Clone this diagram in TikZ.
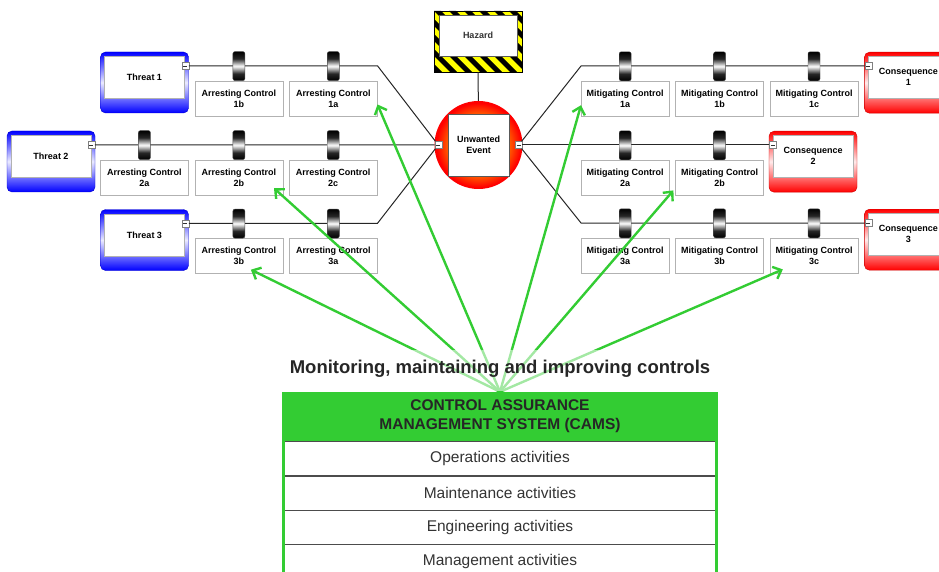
\documentclass[tikz,border=0pt]{standalone}
\usepackage{fontspec}
\setmainfont{Liberation Sans}
\usetikzlibrary{arrows.meta, positioning, calc}
\definecolor{threatblue}{RGB}{0,0,255}
\definecolor{conred}{RGB}{255,0,0}
\definecolor{camsgreen}{RGB}{51,204,51}
\definecolor{hazyellow}{RGB}{255,255,0}
\pgfdeclareradialshading{eventshade}{\pgfpoint{0bp}{0bp}}{color(0bp)=(yellow); color(15bp)=(orange); color(24bp)=(red); color(50bp)=(red)}
\pgfdeclareverticalshading{barriershade}{100bp}{color(0bp)=(black); color(25bp)=(black); color(37bp)=(black!85); color(50bp)=(white); color(63bp)=(black!85); color(75bp)=(black); color(100bp)=(black)}
\tikzset{
  frame/.style={rounded corners=5pt, minimum width=88pt, minimum height=61pt, inner sep=0pt},
  threatframe/.style={frame, top color=threatblue, bottom color=threatblue, middle color=threatblue!8, draw=threatblue!80!black},
  consframe/.style={frame, top color=conred, bottom color=conred, middle color=conred!8, draw=conred!80!black},
  inbox/.style={draw=gray!60, fill=white, minimum width=80pt, minimum height=42pt, inner sep=1pt, align=center, font=\bfseries\fontsize{9}{11}\selectfont},
  ctrl/.style={draw=gray!60, fill=white, minimum width=88pt, minimum height=35pt, inner sep=1pt, align=center, font=\bfseries\fontsize{9}{11}\selectfont},
  barrier/.style={draw=black!70, rounded corners=2pt, minimum width=12pt, minimum height=29pt, inner sep=0pt, shading=barriershade},
  minus/.style={draw=gray, fill=white, minimum size=7pt, inner sep=0pt, path picture={\draw[black!80] ([xshift=-2pt]path picture bounding box.center) -- ([xshift=2pt]path picture bounding box.center);}},
  hazard/.style={draw=black, fill=hazyellow, minimum width=88pt, minimum height=61pt, inner sep=0pt, path picture={\foreach \k in {-75,-60,...,105} \fill[black] ([xshift=\k pt]path picture bounding box.north west) -- ++(7,0) -- ++(62,62) -- ++(-7,0) -- cycle;}},
  hazbox/.style={draw=gray!70!black, fill=white, minimum width=78pt, minimum height=41pt, inner sep=0pt, text=black!80, font=\bfseries\fontsize{9}{11}\selectfont},
  event/.style={circle, shading=eventshade, minimum size=88pt, inner sep=0pt},
  evbox/.style={draw=gray!70!black, fill=white, minimum width=61pt, minimum height=62pt, inner sep=0pt, align=center, font=\bfseries\fontsize{9}{11}\selectfont},
  link/.style={black!85, line width=1pt},
  assure/.style={-{Straight Barb[length=7pt, width=13pt]}, camsgreen, line width=2.4pt},
  hdrbox/.style={fill=camsgreen, minimum width=436pt, minimum height=49pt, inner sep=0pt, align=center, text=black!85, font=\bfseries\fontsize{15.5}{19}\selectfont},
  rowbox/.style={draw=gray!60!black, fill=white, minimum width=434pt, minimum height=34pt, inner sep=0pt, text=black!80, font=\fontsize{15.5}{19}\selectfont},
  montext/.style={inner sep=0pt, text=black!85, font=\bfseries\fontsize{18.5}{22}\selectfont},
}
\begin{document}
\begin{tikzpicture}[x=1pt, y=-1pt, node distance=6pt]
  \clip (0,0) rectangle (939,572);
  % threats
  \node[threatframe] (t1f) at (144.5,82.5) {};
  \node[inbox] (t1) at ([yshift=5pt]t1f.center) {Threat 1};
  \node[threatframe] (t2f) at (51,161.5) {};
  \node[inbox] (t2) at ([yshift=5pt]t2f.center) {Threat 2};
  \node[threatframe] (t3f) at (144.5,240) {};
  \node[inbox] (t3) at ([yshift=5pt]t3f.center) {Threat 3};
  \node[minus] (t1m) at ([shift={(-3.5pt,-14pt)}]t1f.north east) {};
  \node[minus] (t2m) at ([shift={(-4pt,-14pt)}]t2f.north east) {};
  \node[minus] (t3m) at ([shift={(-3.5pt,-14pt)}]t3f.north east) {};

  % arresting controls
  \node[ctrl, anchor=north west] (c1b) at ([shift={(6pt,-29pt)}]t1f.north east) {Arresting Control\\1b};
  \node[ctrl, right=of c1b] (c1a) {Arresting Control\\1a};
  \node[ctrl, anchor=north west] (c2a) at ([shift={(5pt,-29pt)}]t2f.north east) {Arresting Control\\2a};
  \node[ctrl, right=of c2a] (c2b) {Arresting Control\\2b};
  \node[ctrl, right=of c2b] (c2c) {Arresting Control\\2c};
  \node[ctrl, anchor=north west] (c3b) at ([shift={(6pt,-29pt)}]t3f.north east) {Arresting Control\\3b};
  \node[ctrl, right=of c3b] (c3a) {Arresting Control\\3a};

  % hazard and top event
  \node[hazard] (hz) at (478,41.5) {};
  \node[hazbox] (hzt) at ([yshift=6pt]hz.center) {Hazard};
  \node[event] (ev) at (478.5,145) {};
  \node[evbox] (evt) at (ev) {Unwanted\\Event};
  \node[minus] (evl) at ([xshift=4pt]ev.west) {};
  \node[minus] (evr) at ([xshift=-4pt]ev.east) {};

  % mitigating controls
  \node[ctrl, anchor=north west] (m1a) at (581,81) {Mitigating Control\\1a};
  \node[ctrl, right=of m1a] (m1b) {Mitigating Control\\1b};
  \node[ctrl, right=of m1b] (m1c) {Mitigating Control\\1c};
  \node[ctrl, anchor=north west] (m2a) at (581,160) {Mitigating Control\\2a};
  \node[ctrl, right=of m2a] (m2b) {Mitigating Control\\2b};
  \node[ctrl, anchor=north west] (m3a) at (581,238) {Mitigating Control\\3a};
  \node[ctrl, right=of m3a] (m3b) {Mitigating Control\\3b};
  \node[ctrl, right=of m3b] (m3c) {Mitigating Control\\3c};

  % consequences
  \node[consframe, anchor=north west] (k1f) at ([shift={(6pt,29pt)}]m1c.north east) {};
  \node[inbox] (k1) at ([yshift=5.5pt]k1f.center) {Consequence\\1};
  \node[consframe, anchor=north west] (k2f) at ([shift={(5pt,29pt)}]m2b.north east) {};
  \node[inbox] (k2) at ([yshift=5.5pt]k2f.center) {Consequence\\2};
  \node[consframe, anchor=north west] (k3f) at ([shift={(6pt,29pt)}]m3c.north east) {};
  \node[inbox] (k3) at ([yshift=5.5pt]k3f.center) {Consequence\\3};
  \node[minus] (k1m) at ([shift={(4pt,-14pt)}]k1f.north west) {};
  \node[minus] (k2m) at ([shift={(4pt,-14pt)}]k2f.north west) {};
  \node[minus] (k3m) at ([shift={(4pt,-14pt)}]k3f.north west) {};

  % bow-tie lines
  \draw[link] (t1m) -- (t1m -| c1a.east) -- (evl);
  \draw[link] (t2m) -- (evl);
  \draw[link] (t3m) -- (t3m -| c3a.east) -- (evl);
  \draw[link] (evr) -- (m1a.west |- k1m) -- (k1m);
  \draw[link] (evr) -- (k2m);
  \draw[link] (evr) -- (m3a.west |- k3m) -- (k3m);
  \draw[link] (hz) -- (ev);

  % barriers on the lines
  \foreach \c in {c1b,c1a,c2a,c2b,c2c,c3b,c3a,m1a,m1b,m1c,m2a,m2b,m3a,m3b,m3c}
    \node[barrier, above=0pt of \c] (b\c) {};

  % CAMS table
  \node[hdrbox] (hdr) at (500,416.5) {CONTROL ASSURANCE\\MANAGEMENT SYSTEM (CAMS)};
  \node[rowbox, below=0pt of hdr] (ops) {Operations activities};
  \node[rowbox, below=0pt of ops] (mnt) {Maintenance activities};
  \node[rowbox, below=0pt of mnt] (eng) {Engineering activities};
  \node[rowbox, below=0pt of eng] (mgt) {Management activities};
  \draw[camsgreen, line width=3pt] ([xshift=1.5pt]hdr.south west) -- ([xshift=1.5pt]hdr.south west |- mgt.south);
  \draw[camsgreen, line width=3pt] ([xshift=-1.5pt]hdr.south east) -- ([xshift=-1.5pt]hdr.south east |- mgt.south);

  % assurance arrows
  \draw[assure] (hdr.north) -- ([yshift=-6pt]c1a.east);
  \draw[assure] (hdr.north) -- ([shift={(-9pt,7pt)}]c2b.south east);
  \draw[assure] (hdr.north) -- ([shift={(12pt,4pt)}]c3b.south);
  \draw[assure] (hdr.north) -- ([yshift=-6.5pt]m1a.west);
  \draw[assure] (hdr.north) -- ([shift={(-2pt,5pt)}]m2b.south west);
  \draw[assure] (hdr.north) -- ([shift={(13pt,4pt)}]m3c.south west);
  \fill[white, opacity=0.55] (240,350) rectangle (760,391);
  \node[montext] (mon) at ([yshift=23pt]hdr.north) {Monitoring, maintaining and improving controls};
\end{tikzpicture}
\end{document}
